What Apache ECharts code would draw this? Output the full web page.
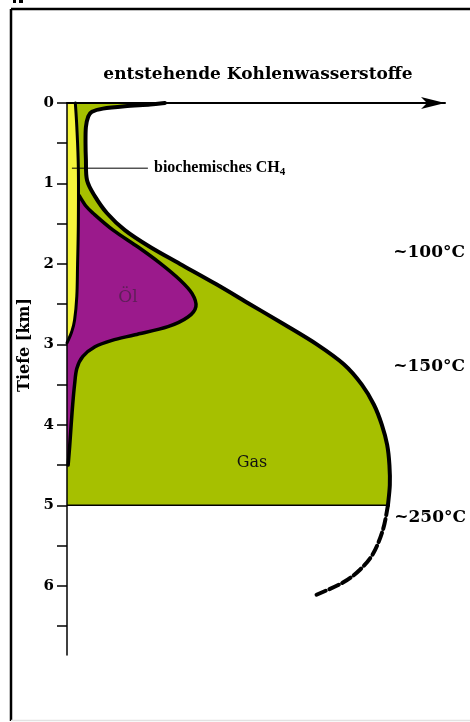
<!DOCTYPE html>
<html>
<head>
<meta charset="utf-8">
<script src="https://cdn.jsdelivr.net/npm/echarts@6/dist/echarts.min.js"></script>
<style>html,body{margin:0;padding:0;background:#fff}#c{width:470px;height:722px}</style>
</head>
<body>
<div id="c"></div>
<script>
// ---- data: [relative amount, depth km] ----
const depthTicks = [0,0.5,1,1.5,2,2.5,3,3.5,4,4.5,5,5.5,6,6.5];
const depthLabels = [0,1,2,3,4,5,6];
const gasOuter = [[25.9,0],[22.0,0.02],[15.3,0.04],[9.5,0.07],[6.6,0.11],[5.6,0.17],[5.0,0.3],[4.9,0.5],[5.0,0.7],[5.3,0.96],[7.4,1.16],[10.6,1.37],[15.3,1.58],[22.0,1.79],[29.9,2.0],[39.4,2.25],[48.4,2.5],[57.4,2.75],[66.1,3.0],[73.3,3.25],[78.0,3.5],[81.2,3.75],[83.3,4.0],[84.7,4.25],[85.3,4.5],[85.4,4.75],[84.9,5.0]];
const gasDeep = [[84.9,5.0],[83.6,5.3],[81.0,5.6],[77.5,5.8],[73.0,5.96],[65.6,6.12]];
const oilBoundary = [[3.2,1.15],[5.0,1.28],[6.9,1.37],[12.2,1.58],[18.8,1.79],[24.6,1.99],[29.9,2.2],[33.1,2.37],[34.1,2.53],[32.0,2.66],[26.7,2.78],[18.0,2.88],[11.9,2.95],[7.4,3.03],[4.2,3.15],[2.6,3.3],[2.0,3.5],[1.5,3.75],[1.1,4.0],[0.7,4.27],[0.3,4.5]];
const yellowEdge = [[2.2,0],[2.6,0.3],[3.0,0.8],[3.0,1.5],[2.8,2.0],[2.6,2.4],[2.0,2.7],[1.2,2.85],[0.3,2.95],[0,2.98]];
const gasBase = [[0,5.0],[84.9,5.0]];
const leader = [[1.3,0.81],[21.4,0.81]];

const SERIF = '"DejaVu Serif", "Liberation Serif", serif';
const TIMES = '"Liberation Serif", "DejaVu Serif", serif';
const GREEN = '#a6c000', PURPLE = '#9b1a8c', YELLOW = '#f5f53c';

function curvePath(px, start) {
  let d = (start ? 'M' : 'L') + px[0][0] + ' ' + px[0][1];
  for (let i = 0; i < px.length - 1; i++) {
    const p0 = px[i-1] || px[i], p1 = px[i], p2 = px[i+1], p3 = px[i+2] || px[i+1];
    const c1 = [p1[0] + (p2[0]-p0[0])/6, p1[1] + (p2[1]-p0[1])/6];
    const c2 = [p2[0] - (p3[0]-p1[0])/6, p2[1] - (p3[1]-p1[1])/6];
    d += ' C' + c1[0] + ' ' + c1[1] + ' ' + c2[0] + ' ' + c2[1] + ' ' + p2[0] + ' ' + p2[1];
  }
  return d;
}

// area between axis (amount 0) and a boundary curve, plus the curve outline
function region(name, pts, fill, strokeW, z, closeTop, closeBottom, dash) {
  return {
    type: 'custom', name: name, coordinateSystem: 'cartesian2d', z: z, silent: true,
    data: pts, clip: false,
    renderItem: function (params, api) {
      if (params.dataIndex !== 0) return null;
      const px = pts.map(p => api.coord(p));
      const children = [];
      if (fill) {
        const a0 = api.coord([0, closeTop]);
        const a1 = api.coord([0, closeBottom]);
        let d = 'M' + a0[0] + ' ' + a0[1] + ' ' + curvePath(px, false) + ' L' + a1[0] + ' ' + a1[1] + ' Z';
        children.push({type: 'path', shape: {pathData: d}, style: {fill: fill, stroke: null}});
      }
      if (strokeW) {
        children.push({type: 'path', shape: {pathData: curvePath(px, true)},
          style: {fill: null, stroke: '#000', lineWidth: strokeW, lineCap: 'round', lineJoin: 'round', lineDash: dash || null}});
      }
      return {type: 'group', children: children};
    }
  };
}

const chart = echarts.init(document.getElementById('c'), null, {renderer: 'canvas'});
chart.setOption({
  animation: false,
  backgroundColor: '#fff',
  grid: {left: 67, top: 103, right: 25, bottom: 67, containLabel: false},
  xAxis: {
    type: 'value', min: 0, max: 100, position: 'top', z: 10,
    axisLine: {show: true, onZero: false, symbol: ['none', 'arrow'], symbolSize: [9, 24],
      lineStyle: {color: '#000', width: 2}},
    axisTick: {show: false}, axisLabel: {show: false}, splitLine: {show: false}
  },
  yAxis: {
    type: 'value', min: 0, max: 6.86, inverse: true, z: 10,
    name: 'Tiefe [km]', nameLocation: 'middle', nameGap: 27, nameRotate: 90,
    nameTextStyle: {fontFamily: SERIF, fontSize: 16, fontWeight: 'bold', color: '#000', padding: [0, 0, 0, 68]},
    axisLine: {show: true, lineStyle: {color: '#000', width: 1.5}},
    axisTick: {show: true, length: 10, customValues: depthTicks, lineStyle: {color: '#000', width: 1.5}},
    axisLabel: {customValues: depthLabels, margin: 13, fontFamily: SERIF, fontSize: 15, fontWeight: 'bold', color: '#000'},
    splitLine: {show: false}
  },
  graphic: [
    {type: 'line', shape: {x1: 11, y1: 9, x2: 470, y2: 9}, style: {stroke: '#000', lineWidth: 2.5}, silent: true},
    {type: 'line', shape: {x1: 11, y1: 9, x2: 11, y2: 721}, style: {stroke: '#000', lineWidth: 2.5}, silent: true},
    {type: 'line', shape: {x1: 11, y1: 720.5, x2: 470, y2: 720.5}, style: {stroke: '#e2e2e2', lineWidth: 1.5}, silent: true},
    {type: 'rect', shape: {x: 13, y: 0, width: 3, height: 3}, style: {fill: '#000'}},
    {type: 'rect', shape: {x: 19, y: 0, width: 4, height: 3}, style: {fill: '#000'}},
    {type: 'text', x: 258, y: 75, style: {text: 'entstehende Kohlenwasserstoffe', font: 'bold 17px ' + SERIF, fill: '#000', textAlign: 'center', textVerticalAlign: 'middle'}},
    {type: 'text', x: 154, y: 168, style: {text: 'biochemisches CH{s|4}', font: 'bold 16px ' + TIMES, fill: '#000', textAlign: 'left', textVerticalAlign: 'middle',
      rich: {s: {fontSize: 11, fontWeight: 'bold', fontFamily: TIMES, padding: [8, 0, 0, 0]}}}},
    {type: 'text', x: 465, y: 253, style: {text: '~100°C', font: 'bold 17px ' + SERIF, fill: '#000', textAlign: 'right', textVerticalAlign: 'middle'}},
    {type: 'text', x: 465, y: 367, style: {text: '~150°C', font: 'bold 17px ' + SERIF, fill: '#000', textAlign: 'right', textVerticalAlign: 'middle'}},
    {type: 'text', x: 466, y: 518, style: {text: '~250°C', font: 'bold 17px ' + SERIF, fill: '#000', textAlign: 'right', textVerticalAlign: 'middle'}},
    {type: 'text', x: 128, y: 298, z: 100, style: {text: 'Öl', font: '17px ' + SERIF, fill: '#5e1f58', textAlign: 'center', textVerticalAlign: 'middle'}},
    {type: 'text', x: 252, y: 463, z: 100, style: {text: 'Gas', font: '16px ' + SERIF, fill: '#111', textAlign: 'center', textVerticalAlign: 'middle'}}
  ],
  series: [
    region('Gas', gasOuter, GREEN, 4, 2, 0, 5.0),
    region('Öl', oilBoundary, PURPLE, 3.5, 3, 1.15, 4.5),
    region('biochemisches CH4', yellowEdge, YELLOW, 3, 4, 0, 2.98),
    region('Gas tief', gasDeep, null, 4, 5, 0, 0, [10, 4]),
    {type: 'line', name: 'Basis', data: gasBase, z: 6, symbol: 'none', silent: true,
      lineStyle: {color: '#000', width: 1.5}},
    {type: 'line', name: 'Hinweis', data: leader, z: 7, symbol: 'none', silent: true,
      lineStyle: {color: '#000', width: 1}}
  ]
});
</script>
</body>
</html>
